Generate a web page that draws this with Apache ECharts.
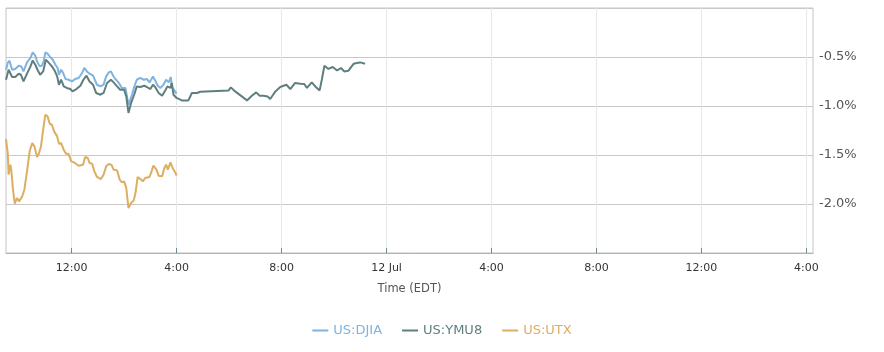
<!DOCTYPE html>
<html>
<head>
<meta charset="utf-8">
<script src="https://cdn.jsdelivr.net/npm/echarts@6/dist/echarts.min.js"></script>
<style>html,body{margin:0;padding:0;background:#fff}#c{width:884px;height:352px}</style>
</head>
<body>
<div id="c"></div>
<script>
// Jul 11 times (EDT), percent change
var djiaTimes = ["09:30","09:34","09:38","09:44","09:51","09:59","10:05","10:10","10:18","10:26","10:31","10:37","10:41","10:47","10:52","10:56","11:00","11:05","11:11","11:17","11:23","11:28","11:31","11:36","11:40","11:46","11:53","12:01","12:08","12:16","12:24","12:29","12:35","12:41","12:49","12:58","13:06","13:13","13:19","13:25","13:30","13:35","13:40","13:47","13:55","14:03","14:10","14:18","14:23","14:29","14:37","14:45","14:52","14:58","15:06","15:11","15:17","15:23","15:30","15:36","15:42","15:47","15:49","15:55","16:00"];
var djiaValues = [-0.630,-0.561,-0.538,-0.630,-0.622,-0.589,-0.596,-0.647,-0.555,-0.510,-0.453,-0.487,-0.545,-0.596,-0.589,-0.545,-0.453,-0.466,-0.500,-0.528,-0.579,-0.612,-0.681,-0.630,-0.657,-0.724,-0.732,-0.749,-0.724,-0.714,-0.663,-0.612,-0.647,-0.670,-0.691,-0.783,-0.800,-0.783,-0.698,-0.657,-0.647,-0.691,-0.724,-0.759,-0.816,-0.816,-0.987,-0.885,-0.806,-0.732,-0.714,-0.732,-0.724,-0.759,-0.698,-0.739,-0.793,-0.816,-0.783,-0.732,-0.759,-0.704,-0.806,-0.841,-0.874];

var ymuTimes = ["09:30","09:36","09:44","09:51","09:59","10:04","10:10","10:18","10:26","10:31","10:37","10:42","10:48","10:55","11:01","11:07","11:15","11:21","11:27","11:31","11:36","11:42","11:49","11:57","12:02","12:11","12:20","12:27","12:34","12:41","12:49","12:56","13:06","13:13","13:21","13:30","13:36","13:44","13:51","14:00","14:05","14:10","14:16","14:23","14:29","14:37","14:46","14:52","15:00","15:06","15:11","15:19","15:27","15:34","15:39","15:46","15:49","15:53","16:00","16:12","16:27","16:35","16:47","16:54","17:59","18:04","18:14","18:29","18:41","18:52","19:02","19:10","19:19","19:28","19:34","19:46","19:57","20:11","20:20","20:31","20:43","20:52","20:58","21:09","21:17","21:27","21:32","21:38","21:47","21:57","22:07","22:16","22:23","22:33","22:45","22:52","23:00","23:04","23:11"];
var ymuValues = [-0.732,-0.630,-0.704,-0.704,-0.670,-0.681,-0.749,-0.670,-0.596,-0.535,-0.579,-0.630,-0.681,-0.647,-0.528,-0.555,-0.596,-0.637,-0.698,-0.783,-0.732,-0.800,-0.816,-0.827,-0.851,-0.827,-0.793,-0.732,-0.691,-0.749,-0.783,-0.867,-0.885,-0.867,-0.765,-0.732,-0.759,-0.800,-0.834,-0.834,-0.902,-1.071,-0.969,-0.885,-0.800,-0.806,-0.793,-0.806,-0.827,-0.783,-0.806,-0.867,-0.895,-0.841,-0.800,-0.816,-0.765,-0.885,-0.918,-0.943,-0.943,-0.867,-0.867,-0.855,-0.841,-0.810,-0.851,-0.902,-0.943,-0.895,-0.861,-0.895,-0.895,-0.902,-0.929,-0.851,-0.806,-0.783,-0.827,-0.765,-0.772,-0.776,-0.816,-0.759,-0.800,-0.841,-0.732,-0.589,-0.622,-0.602,-0.637,-0.612,-0.647,-0.640,-0.568,-0.561,-0.555,-0.538,-0.568];

var utxTimes = ["09:30","09:34","09:36","09:40","09:42","09:46","09:50","09:55","10:00","10:07","10:12","10:18","10:24","10:30","10:35","10:41","10:45","10:50","10:56","11:00","11:05","11:10","11:15","11:20","11:27","11:31","11:36","11:42","11:47","11:53","11:59","12:06","12:16","12:26","12:31","12:37","12:41","12:47","12:52","12:58","13:07","13:13","13:19","13:25","13:31","13:36","13:44","13:50","13:55","14:00","14:05","14:10","14:16","14:22","14:26","14:31","14:37","14:43","14:48","14:52","14:58","15:01","15:07","15:14","15:19","15:27","15:32","15:36","15:40","15:46","15:51","15:57","16:00"];
var utxValues = [-1.337,-1.480,-1.701,-1.599,-1.650,-1.854,-1.997,-1.939,-1.973,-1.922,-1.854,-1.667,-1.463,-1.378,-1.412,-1.520,-1.487,-1.412,-1.208,-1.089,-1.106,-1.181,-1.191,-1.259,-1.310,-1.385,-1.378,-1.446,-1.487,-1.487,-1.565,-1.576,-1.609,-1.599,-1.520,-1.531,-1.582,-1.589,-1.667,-1.724,-1.745,-1.701,-1.616,-1.592,-1.599,-1.650,-1.657,-1.752,-1.780,-1.769,-1.837,-2.041,-1.990,-1.963,-1.888,-1.724,-1.745,-1.769,-1.735,-1.718,-1.724,-1.691,-1.609,-1.650,-1.711,-1.718,-1.633,-1.599,-1.650,-1.576,-1.633,-1.678,-1.711];

var seriesNames = ["US:DJIA","US:YMU8","US:UTX"];
var seriesColors = ["#7fb3e0","#5f7f7f","#dcae62"];
var xTickHours = [12,16,20,24,28,32,36,40];
var yTicks = [-0.5,-1.0,-1.5,-2.0];

function toHours(t){var p=t.split(":");return +p[0]+ (+p[1])/60;}
function pairs(ts,vs){return ts.map(function(t,i){return [toHours(t),vs[i]];});}
var allData = [pairs(djiaTimes,djiaValues),pairs(ymuTimes,ymuValues),pairs(utxTimes,utxValues)];
var font = "DejaVu Sans";

var chart = echarts.init(document.getElementById('c'));
chart.setOption({
  animation:false,
  grid:{left:6,right:71,top:8,bottom:99,show:true,borderColor:'#c4c4c4',borderWidth:1},
  legend:{
    bottom:10,left:'center',icon:'rect',itemWidth:16,itemHeight:2,itemGap:20,itemSpacing:5,
    data: seriesNames.map(function(n,i){return {name:n,textStyle:{color:seriesColors[i]}};}),
    textStyle:{fontFamily:font,fontSize:13}
  },
  xAxis:{
    type:'value',min:9.5,max:40.25,
    name:'Time (EDT)',nameLocation:'middle',nameGap:30,
    nameTextStyle:{color:'#555',fontFamily:font,fontSize:11.5},
    axisLine:{show:true,onZero:false,lineStyle:{color:'#a8b4bd'}},
    axisTick:{show:true,inside:true,length:5,customValues:xTickHours,lineStyle:{color:'#6f8a95'}},
    axisLabel:{customValues:xTickHours,color:'#333',fontFamily:font,fontSize:11,margin:10,
      formatter:function(v){var h=Math.round(v)%24; if(h===0){return '12 Jul';} var hh=h%12===0?12:h%12; return hh+':00';}},
    splitLine:{show:true,lineStyle:{color:'#e8e8e8'}}
  },
  yAxis:{
    type:'value',position:'right',min:-2.5,max:0,interval:0.5,
    axisLine:{show:false},axisTick:{show:false},
    axisLabel:{showMinLabel:false,showMaxLabel:false,color:'#555',fontFamily:font,fontSize:13,margin:6,
      formatter:function(v){return v.toFixed(1)+'%';}},
    splitLine:{lineStyle:{color:'#c8c8c8'}}
  },
  series: seriesNames.map(function(n,i){
    return {name:n,type:'line',data:allData[i],showSymbol:false,symbol:'none',
      lineStyle:{width:2,color:seriesColors[i]},itemStyle:{color:seriesColors[i]},z:[2,3,1][i]};
  })
});
</script>
</body>
</html>
